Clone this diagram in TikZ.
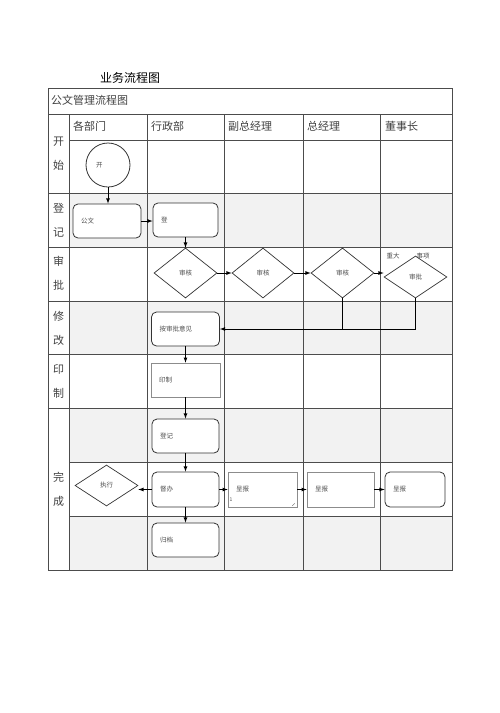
\documentclass[tikz,border=0pt]{standalone}
\usepackage{fontspec}
\setmainfont{Noto Sans CJK SC}
\usetikzlibrary{shapes.geometric}

\begin{document}
\begin{tikzpicture}[x=1pt, y=-1pt, >=latex,
	grid/.style={draw=black!70, line width=0.7pt},
	lane/.style={fill=black!5, draw=none},
	head/.style={anchor=west, inner sep=0pt, font=\fontsize{11}{11}\selectfont, text=black!75},
	side/.style={align=center, inner sep=0pt, font=\fontsize{11}{24}\selectfont, text=black!75},
	box/.style={draw=black!80, line width=0.8pt, rounded corners=5pt, fill=white, minimum height=34pt, text width=51pt, inner xsep=8pt, align=left, font=\fontsize{6.5}{7}\selectfont, text=black!70},
	plain/.style={box, rounded corners=0pt, draw=black!45, line width=0.6pt},
	check/.style={diamond, draw=black!80, line width=0.7pt, fill=white, inner sep=0pt, font=\fontsize{6.5}{7}\selectfont, text=black!70},
	note/.style={inner sep=0pt, font=\fontsize{6.5}{7}\selectfont, text=black!70},
	link/.style={->, line width=0.8pt}]
\useasboundingbox (0,0) rectangle (500,713);

\foreach \top/\bot in {193/247, 301/354, 408/462, 516/570}
	\fill[lane] (69,\top) rectangle (452,\bot);
\draw[grid] (48,88) rectangle (452,570);
\draw[grid] (48,114) -- (452,114);
\foreach \y in {140,462,516}
	\draw[grid] (69,\y) -- (452,\y);
\foreach \y in {193,247,301,354,408}
	\draw[grid] (48,\y) -- (452,\y);
\foreach \x in {69,147,224,303,380}
	\draw[grid] (\x,114) -- (\x,570);

\node[font=\fontsize{12}{12}\selectfont] (title) at (130,78) {业务流程图};
\node[head] (chart) at (51,100) {公文管理流程图};
\foreach \x/\t in {73/各部门, 151/行政部, 228/副总经理, 307/总经理, 385/董事长}
	\node[head] at (\x,126) {\t};
\foreach \y/\a/\b in {154/开/始, 220/登/记, 273/审/批, 328/修/改, 381/印/制, 489/完/成}
	\node[side] at (58.5,\y) {\a\\\b};

\node[circle, draw=black!80, line width=0.8pt, minimum size=44pt, inner sep=0pt, text width=24pt, align=left, font=\fontsize{6.5}{7}\selectfont, text=black!70] (kai) at (108,165) {开};
\node[box, text width=52pt] (gongwen) at (107,221) {公文};
\node[box, text width=49pt] (deng) at (185.5,220) {登};

\node[check, minimum width=63pt, minimum height=50pt] (shenhe1) at (185.5,273) {审核};
\node[check, minimum width=62pt, minimum height=50pt] (shenhe2) at (263,273) {审核};
\node[check, minimum width=63pt, minimum height=50pt] (shenhe3) at (342.5,273) {审核};
\node[check, minimum width=63pt, minimum height=42pt] (shenpi) at (415.5,277) {审批};
\node[note] (zhongda) at (393,256) {重大};
\node[note] (shixiang) at (423,256) {事项};

\node[box, text width=52pt] (xiugai) at (185.5,329) {按审批意见};
\node[plain, text width=53pt] (yinzhi) at (185.5,380) {印制};
\node[box] (dengji) at (185.5,436) {登记};
\node[box, minimum height=35pt] (duban) at (185.5,489.5) {督办};
\node[check, minimum width=63pt, minimum height=41pt] (zhixing) at (106.5,485.5) {执行};
\node[plain, minimum height=35pt, text width=53pt] (chengbao1) at (262.5,489.5) {呈报};
\node[plain, minimum height=35pt] (chengbao2) at (340.5,489.5) {呈报};
\node[box, minimum height=35pt, text width=44pt] (chengbao3) at (415,489.5) {呈报};
\node[box] (guidang) at (185.5,540) {归档};
\node[inner sep=0pt, font=\fontsize{5}{5}\selectfont, text=black!70] (num) at (231,500) {1};
\draw[black!60, line width=0.4pt] ([shift={(-5pt,1.5pt)}]chengbao1.south east) -- ++(2.5pt,2.5pt);

\draw[link] (kai.south) -- (kai.south |- gongwen.north);
\draw[link] (gongwen.east) -- (gongwen.east -| deng.west);
\draw[link] (deng.south) -- (shenhe1.north);
\draw[link] (shenhe1.east) -- (shenhe2.west);
\draw[link] (shenhe2.east) -- (shenhe3.west);
\draw[link] (shenhe3.east) -- (shenhe3.east -| shenpi.west);
\draw[line width=0.8pt] (shenhe3.south) -- (shenhe3.south |- xiugai.east);
\draw[link] (shenpi.south) |- (xiugai.east);
\draw[link] (xiugai.south) -- (yinzhi.north);
\draw[link] (yinzhi.south) -- (dengji.north);
\draw[link] (dengji.south) -- (duban.north);
\draw[link] (duban.west) -- (duban.west -| zhixing.east);
\draw[link] (duban.east) -- (chengbao1.west);
\draw[link] (chengbao1.east) -- (chengbao2.west);
\draw[link] (chengbao2.east) -- (chengbao3.west);
\draw[link] (duban.south) -- (guidang.north);
\end{tikzpicture}
\end{document}
